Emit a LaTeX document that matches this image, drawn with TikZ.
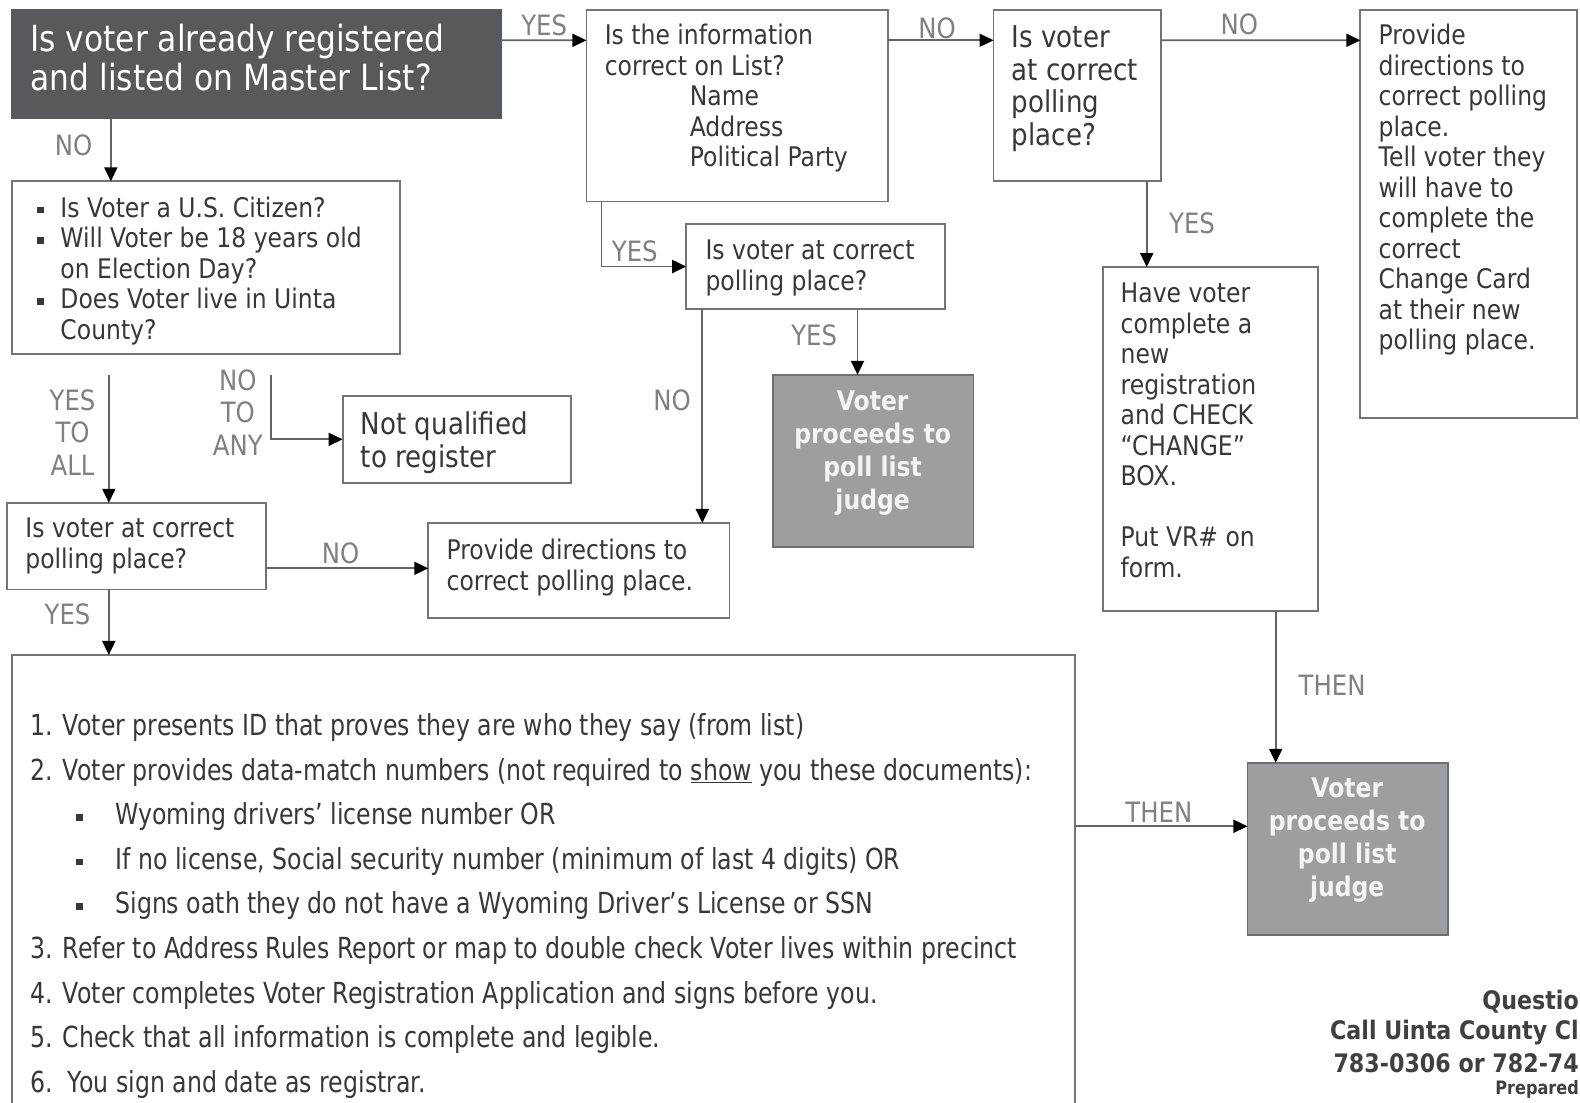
\documentclass[tikz,border=0pt]{standalone}
\usepackage{fontspec}
\setmainfont{DejaVu Sans}[FakeStretch=0.87]
\newfontfamily\condfont{DejaVu Sans}[FakeStretch=0.815]
\usetikzlibrary{arrows.meta,calc,fit}
\definecolor{hdrfill}{HTML}{58595B}
\definecolor{grayfill}{HTML}{9D9EA0}
\definecolor{grayedge}{HTML}{6E6F71}
\definecolor{boxc}{HTML}{737476}
\definecolor{linec}{HTML}{646464}
\definecolor{labc}{HTML}{808080}
\definecolor{txtc}{HTML}{383838}
\definecolor{notec}{HTML}{404040}
\definecolor{judgetxt}{HTML}{F4F4F4}
\newcommand\myfs[2]{\fontsize{#1}{#2}\selectfont}
\newcommand\sqb{\rule[4pt]{6.5pt}{6.5pt}}
\begin{document}
\begin{tikzpicture}[x=1.0077pt,y=-1.0077pt,
  box/.style={draw=boxc, line width=1.8pt, fill=white, inner sep=0pt, outer sep=0pt},
  darkbox/.style={draw=hdrfill, line width=1.8pt, fill=hdrfill, inner sep=0pt, outer sep=0pt},
  judgebox/.style={draw=grayedge, line width=1.8pt, fill=grayfill, inner sep=0pt, outer sep=0pt},
  txt/.style={anchor=north west, inner sep=0pt, align=left, text=txtc, font=\myfs{27}{30.5}},
  bigtxt/.style={anchor=north west, inner sep=0pt, align=left, text=txtc, font=\myfs{30}{32.6}},
  judgetext/.style={anchor=north, inner sep=0pt, align=center, text=judgetxt, font=\bfseries\myfs{27}{33}},
  lab/.style={inner sep=0pt, align=center, text=labc, font=\myfs{28}{32.5}},
  note/.style={anchor=east, inner sep=0pt, text=notec, font=\bfseries\myfs{25.5}{30}},
  arr/.style={draw=linec, line width=1.8pt, -{Triangle[length=14pt,width=13pt,color=black]}}
]
\useasboundingbox (0,0) rectangle (1568,1094);
\fill[white] (0,0) rectangle (1568,1094);

% boxes
\node[darkbox, fit={(12,10) (497,117)}] (hdr) {};
\node[box, fit={(582,10) (881,200)}] (info) {};
\node[box, fit={(986,10) (1152,180)}] (corr1) {};
\node[box, fit={(1350,10) (1565,415)}] (dir1) {};
\node[box, fit={(1095,265) (1308,606)}] (newreg) {};
\node[judgebox, fit={(1238,757) (1437,928)}] (judge2) {};
\node[box, fit={(681,222) (938,307)}] (corr2) {};
\node[judgebox, fit={(767,372) (966,543)}] (judge1) {};
\node[box, fit={(425,519) (724,613)}] (dir2) {};
\node[box, fit={(12,180) (397,351)}] (quals) {};
\node[box, fit={(340,393) (567,479)}] (notq) {};
\node[box, fit={(7,499) (264,585)}] (corr3) {};
\node[box, fit={(12,650) (1067,1115)}] (big) {};

% texts
\node[anchor=north west, inner sep=0pt, align=left, text=white, font=\myfs{36}{39}] (thdr) at (30,23.5)
  {Is voter already registered\\and listed on Master List?};
\node[txt] (tinfo) at (600,23.8) {Is the information\\correct on List?\\\hspace*{85pt}Name\\\hspace*{85pt}Address\\\hspace*{85pt}Political Party};
\node[bigtxt] (tcorr1) at (1004,25.4) {Is voter\\at correct\\polling\\place?};
\node[txt] (tdir1) at (1368,23.8) {Provide\\directions to\\correct polling\\place.\\Tell voter they\\will have to\\complete the\\correct\\Change Card\\at their new\\polling place.};
\node[txt] (tnewreg) at (1112,280.8) {Have voter\\complete a\\new\\registration\\and CHECK\\“CHANGE”\\BOX.\\[30.5pt]Put VR\# on\\form.};
\node[txt] (tcorr2) at (700,237.8) {Is voter at correct\\polling place?};
\node[judgetext] (tjudge1) at (866,387.4) {Voter\\proceeds to\\poll list\\judge};
\node[judgetext] (tjudge2) at (1337,771.4) {Voter\\proceeds to\\poll list\\judge};
\node[txt] (tdir2) at (443,534.8) {Provide directions to\\correct polling place.};
\node[txt] (tquals) at (37,194.8) {\makebox[23pt][l]{\sqb}Is Voter a U.S. Citizen?\\\makebox[23pt][l]{\sqb}Will Voter be 18 years old\\\hspace*{23pt}on Election Day?\\\makebox[23pt][l]{\sqb}Does Voter live in Uinta\\\hspace*{23pt}County?};
\node[bigtxt, font=\myfs{30}{33}] (tnotq) at (358,408.4) {Not qualified\\to register};
\node[txt] (tcorr3) at (25,513.8) {Is voter at correct\\polling place?};
\node[anchor=north west, inner sep=0pt, align=left, text=txtc, font=\condfont\myfs{29}{44.6}] (tbig) at (30,707.9)
  {1. Voter presents ID that proves they are who they say (from list)\\
   2. Voter provides data-match numbers (not required to \underline{show} you these documents):\\
   \hspace*{46pt}\makebox[39pt][l]{\sqb}Wyoming drivers’ license number OR\\
   \hspace*{46pt}\makebox[39pt][l]{\sqb}If no license, Social security number (minimum of last 4 digits) OR\\
   \hspace*{46pt}\makebox[39pt][l]{\sqb}Signs oath they do not have a Wyoming Driver’s License or SSN\\
   3. Refer to Address Rules Report or map to double check Voter lives within precinct\\
   4. Voter completes Voter Registration Application and signs before you.\\
   5. Check that all information is complete and legible.\\
   6.\ \ You sign and date as registrar.};

% bottom right (visible fragments at the page edge)
\node[note] (q1) at (1567,994) {Questio};
\node[note] (q2) at (1567,1025) {Call Uinta County Cl};
\node[note] (q3) at (1567,1055) {783-0306 or 782-74};
\node[note, font=\bfseries\myfs{18.5}{22}] (q4) at (1567,1081) {Prepared};

% connector anchor points
\coordinate (a1) at ($(corr1.south west)+(152,0)$);
\coordinate (a2) at ($(newreg.south west)+(171,0)$);
\coordinate (a3) at ($(judge2.north west)+(0,63)$);
\coordinate (a4) at ($(info.south west)+(15,0)$);
\coordinate (a5) at ($(corr2.south west)+(170,0)$);
\coordinate (a6) at ($(corr2.south west)+(16,0)$);
\coordinate (a7) at ($(hdr.south west)+(98,0)$);
\coordinate (ya) at (108,372);
\coordinate (na) at (269,372);
\coordinate (a8) at ($(corr3.north east)+(0,65)$);
\coordinate (a9) at ($(corr3.south west)+(101,0)$);

% connectors
\draw[arr] ($(hdr.north east)+(0,30)$) -- ($(info.north west)+(0,30)$);
\draw[arr] ($(info.north east)+(0,30)$) -- ($(corr1.north west)+(0,30)$);
\draw[arr] ($(corr1.north east)+(0,30)$) -- ($(dir1.north west)+(0,30)$);
\draw[arr] (a1) -- (a1 |- newreg.north);
\draw[arr] (a2) -- (a2 |- judge2.north);
\draw[arr] (big.east |- a3) -- (a3);
\draw[arr] (a4) |- (corr2.west);
\draw[arr] (a5) -- (a5 |- judge1.north);
\draw[arr] (a6) -- (a6 |- dir2.north);
\draw[arr] (a7) -- (a7 |- quals.north);
\draw[arr] (ya) -- (ya |- corr3.north);
\draw[arr] (na) |- (notq.west);
\draw[arr] (a8) -- (dir2.west |- a8);
\draw[arr] (a9) -- (a9 |- big.north);

% labels
\node[lab] (l1) at (540,25) {YES};
\node[lab] (l2) at (930,28) {NO};
\node[lab] (l3) at (1230,24) {NO};
\node[lab] (l4) at (1183,222) {YES};
\node[lab] (l5) at (1322,680) {THEN};
\node[lab] (l6) at (1150,806) {THEN};
\node[lab] (l7) at (630,249) {YES};
\node[lab] (l8) at (808,333) {YES};
\node[lab] (l9) at (667,397) {NO};
\node[lab] (l10) at (73,144) {NO};
\node[lab] (l11) at (72,429) {YES\\TO\\ALL};
\node[lab] (l12) at (236,409) {NO\\TO\\ANY};
\node[lab] (l13) at (338,549) {NO};
\node[lab] (l14) at (67,610) {YES};
\end{tikzpicture}
\end{document}
